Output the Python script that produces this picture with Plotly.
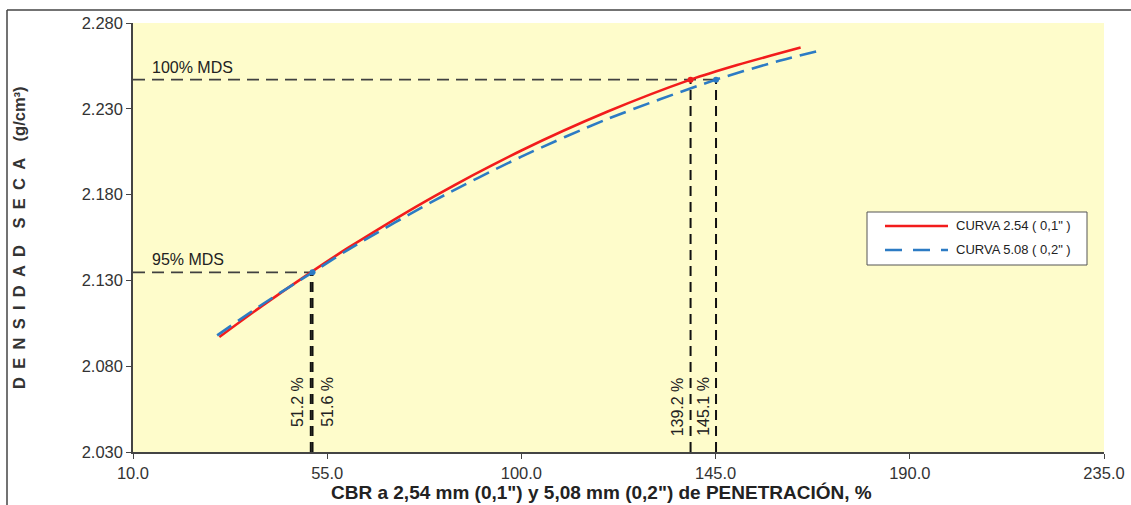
import plotly.graph_objects as go

# CBR (%) vs dry density curves
cbr_254 = [30.0, 40.0, 51.2, 60.0, 80.0, 100.0, 120.0, 139.2, 150.0, 164.7]
dens_254 = [2.0970, 2.1153, 2.1347, 2.1492, 2.1793, 2.2057, 2.2284, 2.2470, 2.2555, 2.2657]

cbr_508 = [29.5, 40.0, 51.6, 60.0, 80.0, 100.0, 120.0, 145.1, 160.0, 170.0]
dens_508 = [2.0980, 2.1161, 2.1347, 2.1481, 2.1768, 2.2021, 2.2241, 2.2470, 2.2581, 2.2645]

# Maximum dry density and the 95 % level
mds_100 = 2.247
mds_95 = 2.1347
cbr_100 = [139.2, 145.1]
cbr_95 = [51.2, 51.6]
cbr_100_labels = ["139.2 %", "145.1 %"]
cbr_95_labels = ["51.2 %", "51.6 %"]

x_ticks = [10.0, 55.0, 100.0, 145.0, 190.0, 235.0]
y_ticks = [2.030, 2.080, 2.130, 2.180, 2.230, 2.280]

series_names = ['CURVA 2.54 ( 0,1" )', 'CURVA 5.08 ( 0,2" )']
RED = "#F21C1C"
BLUE = "#2C7BC4"
FONT = "Arial, Liberation Sans, sans-serif"

fig = go.Figure()

# Reference lines (horizontal: MDS levels, vertical: CBR readings)
for level, xend in [(mds_100, cbr_100[1]), (mds_95, cbr_95[1])]:
    fig.add_trace(go.Scatter(x=[10, xend], y=[level, level], mode="lines",
                             line=dict(color="#404040", width=1.6, dash="12px,7px"),
                             showlegend=False, hoverinfo="skip"))
for xv, yv in zip(cbr_100 + cbr_95, [mds_100, mds_100, mds_95, mds_95]):
    fig.add_trace(go.Scatter(x=[xv, xv], y=[2.030, yv], mode="lines",
                             line=dict(color="#111111", width=2, dash="10px,6px"),
                             showlegend=False, hoverinfo="skip"))

# Curves
fig.add_trace(go.Scatter(x=cbr_254, y=dens_254, mode="lines", name=series_names[0],
                         line=dict(color=RED, width=2.6, shape="spline", smoothing=0.8),
                         showlegend=False))
fig.add_trace(go.Scatter(x=cbr_508, y=dens_508, mode="lines", name=series_names[1],
                         line=dict(color=BLUE, width=2.6, dash="17px,8px",
                                   shape="spline", smoothing=0.8),
                         showlegend=False))

# Intersection points
fig.add_trace(go.Scatter(x=[cbr_100[0]], y=[mds_100], mode="markers",
                         marker=dict(color=RED, size=6), showlegend=False))
fig.add_trace(go.Scatter(x=[cbr_100[1], cbr_95[1]], y=[mds_100, mds_95], mode="markers",
                         marker=dict(color=BLUE, size=6), showlegend=False))

ann = []
for label, level in [("100% MDS", mds_100), ("95% MDS", mds_95)]:
    ann.append(dict(x=14, y=level, text=label, showarrow=False, xanchor="left",
                    yanchor="bottom", yshift=2, font=dict(size=16, color="#222", family=FONT)))

label_x = cbr_95 + cbr_100
label_t = cbr_95_labels + cbr_100_labels
shifts = [-14, 15, -13, -12]
for xv, t, s in zip(label_x, label_t, shifts):
    ann.append(dict(x=xv, y=2.0747, text=t, textangle=-90, showarrow=False,
                    xanchor="center", yanchor="top", xshift=s,
                    font=dict(size=16, color="#222", family=FONT)))

# Axis titles
EN = "\u2002"
EM = "\u2003"
ytitle = EN.join("DENSIDAD") + EM + EN.join("SECA") + EM + "(g/cm³)"
ann.append(dict(xref="paper", yref="paper", x=-0.118, y=0.5,
                text="<b>" + ytitle + "</b>",
                textangle=-90, showarrow=False, xanchor="center", yanchor="middle",
                font=dict(size=16.5, color="#333", family=FONT)))
ann.append(dict(xref="paper", yref="paper", x=0.483, y=-0.095,
                text='<b>CBR a 2,54 mm (0,1") y 5,08 mm (0,2") de PENETRACIÓN, %</b>',
                showarrow=False, xanchor="center", yanchor="middle",
                font=dict(size=19, color="#222", family=FONT)))

# Legend box
def px(xp):
    return (xp - 133) / 971

def py(yp):
    return (452 - yp) / 429

shapes = []
shapes.append(dict(type="rect", xref="paper", yref="paper", x0=px(867), x1=px(1087),
                   y0=py(265), y1=py(212), fillcolor="white",
                   line=dict(color="#555", width=1)))
shapes.append(dict(type="line", xref="paper", yref="paper", x0=px(885), x1=px(948),
                   y0=py(226), y1=py(226), line=dict(color=RED, width=2.6)))
shapes.append(dict(type="line", xref="paper", yref="paper", x0=px(885), x1=px(948),
                   y0=py(250), y1=py(250), line=dict(color=BLUE, width=2.6, dash="17px,11px")))
for t, yy in zip(series_names, [226, 250]):
    ann.append(dict(xref="paper", yref="paper", x=px(954), y=py(yy), text=t,
                    showarrow=False, xanchor="left", yanchor="middle",
                    font=dict(size=13, color="#222", family=FONT)))

# Outer frame
shapes.append(dict(type="line", xref="paper", yref="paper", x0=px(7), x1=px(1131),
                   y0=py(10), y1=py(10), line=dict(color="#444", width=1.5)))
shapes.append(dict(type="line", xref="paper", yref="paper", x0=px(7), x1=px(7),
                   y0=py(10), y1=py(505), line=dict(color="#444", width=1.5)))

fig.update_layout(
    width=1131, height=505,
    margin=dict(l=133, r=27, t=23, b=53),
    paper_bgcolor="white",
    plot_bgcolor="#FEFCCB",
    annotations=ann,
    shapes=shapes,
    font=dict(family=FONT, color="#333"),
)
fig.update_xaxes(range=[10, 235], tickvals=x_ticks, tickformat=".1f", automargin=False,
                 showgrid=False, zeroline=False, showline=True, linecolor="#444",
                 linewidth=1.5, ticks="outside", ticklen=5, tickcolor="#444",
                 tickfont=dict(size=16.5, color="#333"))
fig.update_yaxes(range=[2.030, 2.280], tickvals=y_ticks, tickformat=".3f", automargin=False,
                 showgrid=False, zeroline=False, showline=True, linecolor="#444",
                 linewidth=1.5, ticks="outside", ticklen=5, tickcolor="#444",
                 tickfont=dict(size=16.5, color="#333"))

fig.write_html("out.html")
